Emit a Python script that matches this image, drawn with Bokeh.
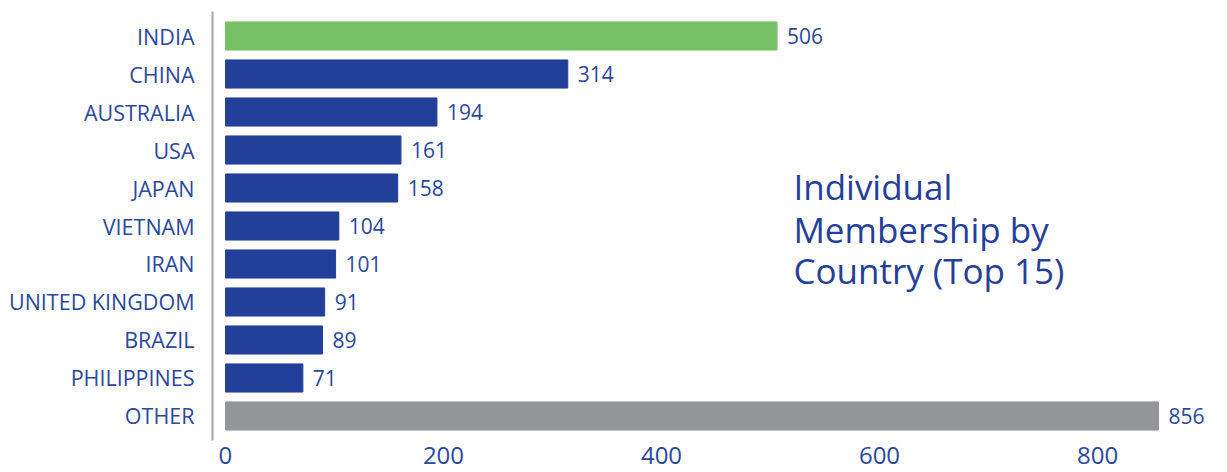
from bokeh.plotting import figure
from bokeh.models import Range1d, FactorRange, FixedTicker, ColumnDataSource, Label
from bokeh.core.properties import value
from bokeh.embed import file_html
from bokeh.resources import INLINE

countries = ["INDIA", "CHINA", "AUSTRALIA", "USA", "JAPAN", "VIETNAM", "IRAN",
             "UNITED KINGDOM", "BRAZIL", "PHILIPPINES", "OTHER"]
members = [506, 314, 194, 161, 158, 104, 101, 91, 89, 71, 856]
bar_colors = ["#77C267"] + ["#22409A"] * 9 + ["#939598"]
x_ticks = [0, 200, 400, 600, 800]
title_lines = ["Individual", "Membership by", "Country (Top 15)"]

FONT = "Open Sans"
TXT = "#2B489C"

src = ColumnDataSource(dict(country=countries, n=members, color=bar_colors,
                            label=[str(v) for v in members]))

p = figure(width=1227, height=472, output_backend="svg", toolbar_location=None,
           x_range=Range1d(-11.9, 911.9),
           y_range=FactorRange(factors=list(reversed(countries)),
                               range_padding=0.145, range_padding_units="absolute"),
           min_border_left=212, min_border_right=8, min_border_top=11, min_border_bottom=32)

p.hbar(y="country", left=0, right="n", height=0.74, color="color", source=src)
p.text(x="n", y="country", text="label", source=src, x_offset=10,
       text_baseline="middle", text_align="left", text_font=value(FONT),
       text_font_size="21px", text_color=TXT)

p.outline_line_color = None
p.grid.visible = False

ya = p.yaxis[0]
ya.axis_line_color = "#A6A6A6"
ya.axis_line_width = 2
ya.major_tick_line_color = None
ya.minor_tick_line_color = None
ya.major_tick_out = 0
ya.major_label_standoff = 18
ya.major_label_text_font = FONT
ya.major_label_text_font_size = "21.5px"
ya.major_label_text_color = TXT

xa = p.xaxis[0]
xa.ticker = FixedTicker(ticks=x_ticks)
xa.axis_line_color = None
xa.major_tick_line_color = None
xa.minor_tick_line_color = None
xa.major_tick_out = 0
xa.major_label_standoff = 6
xa.major_label_text_font = FONT
xa.major_label_text_font_size = "24px"
xa.major_label_text_color = TXT

# title lines (synthetic categorical coordinates for vertical placement)
for line, yy in zip(title_lines, [6.54, 5.42, 4.32]):
    p.add_layout(Label(x=521, y=yy, text=line, text_font=FONT, text_font_size="35px",
                       text_color="#24409A", text_baseline="middle"))

open("out.html", "w").write(file_html(p, INLINE))
